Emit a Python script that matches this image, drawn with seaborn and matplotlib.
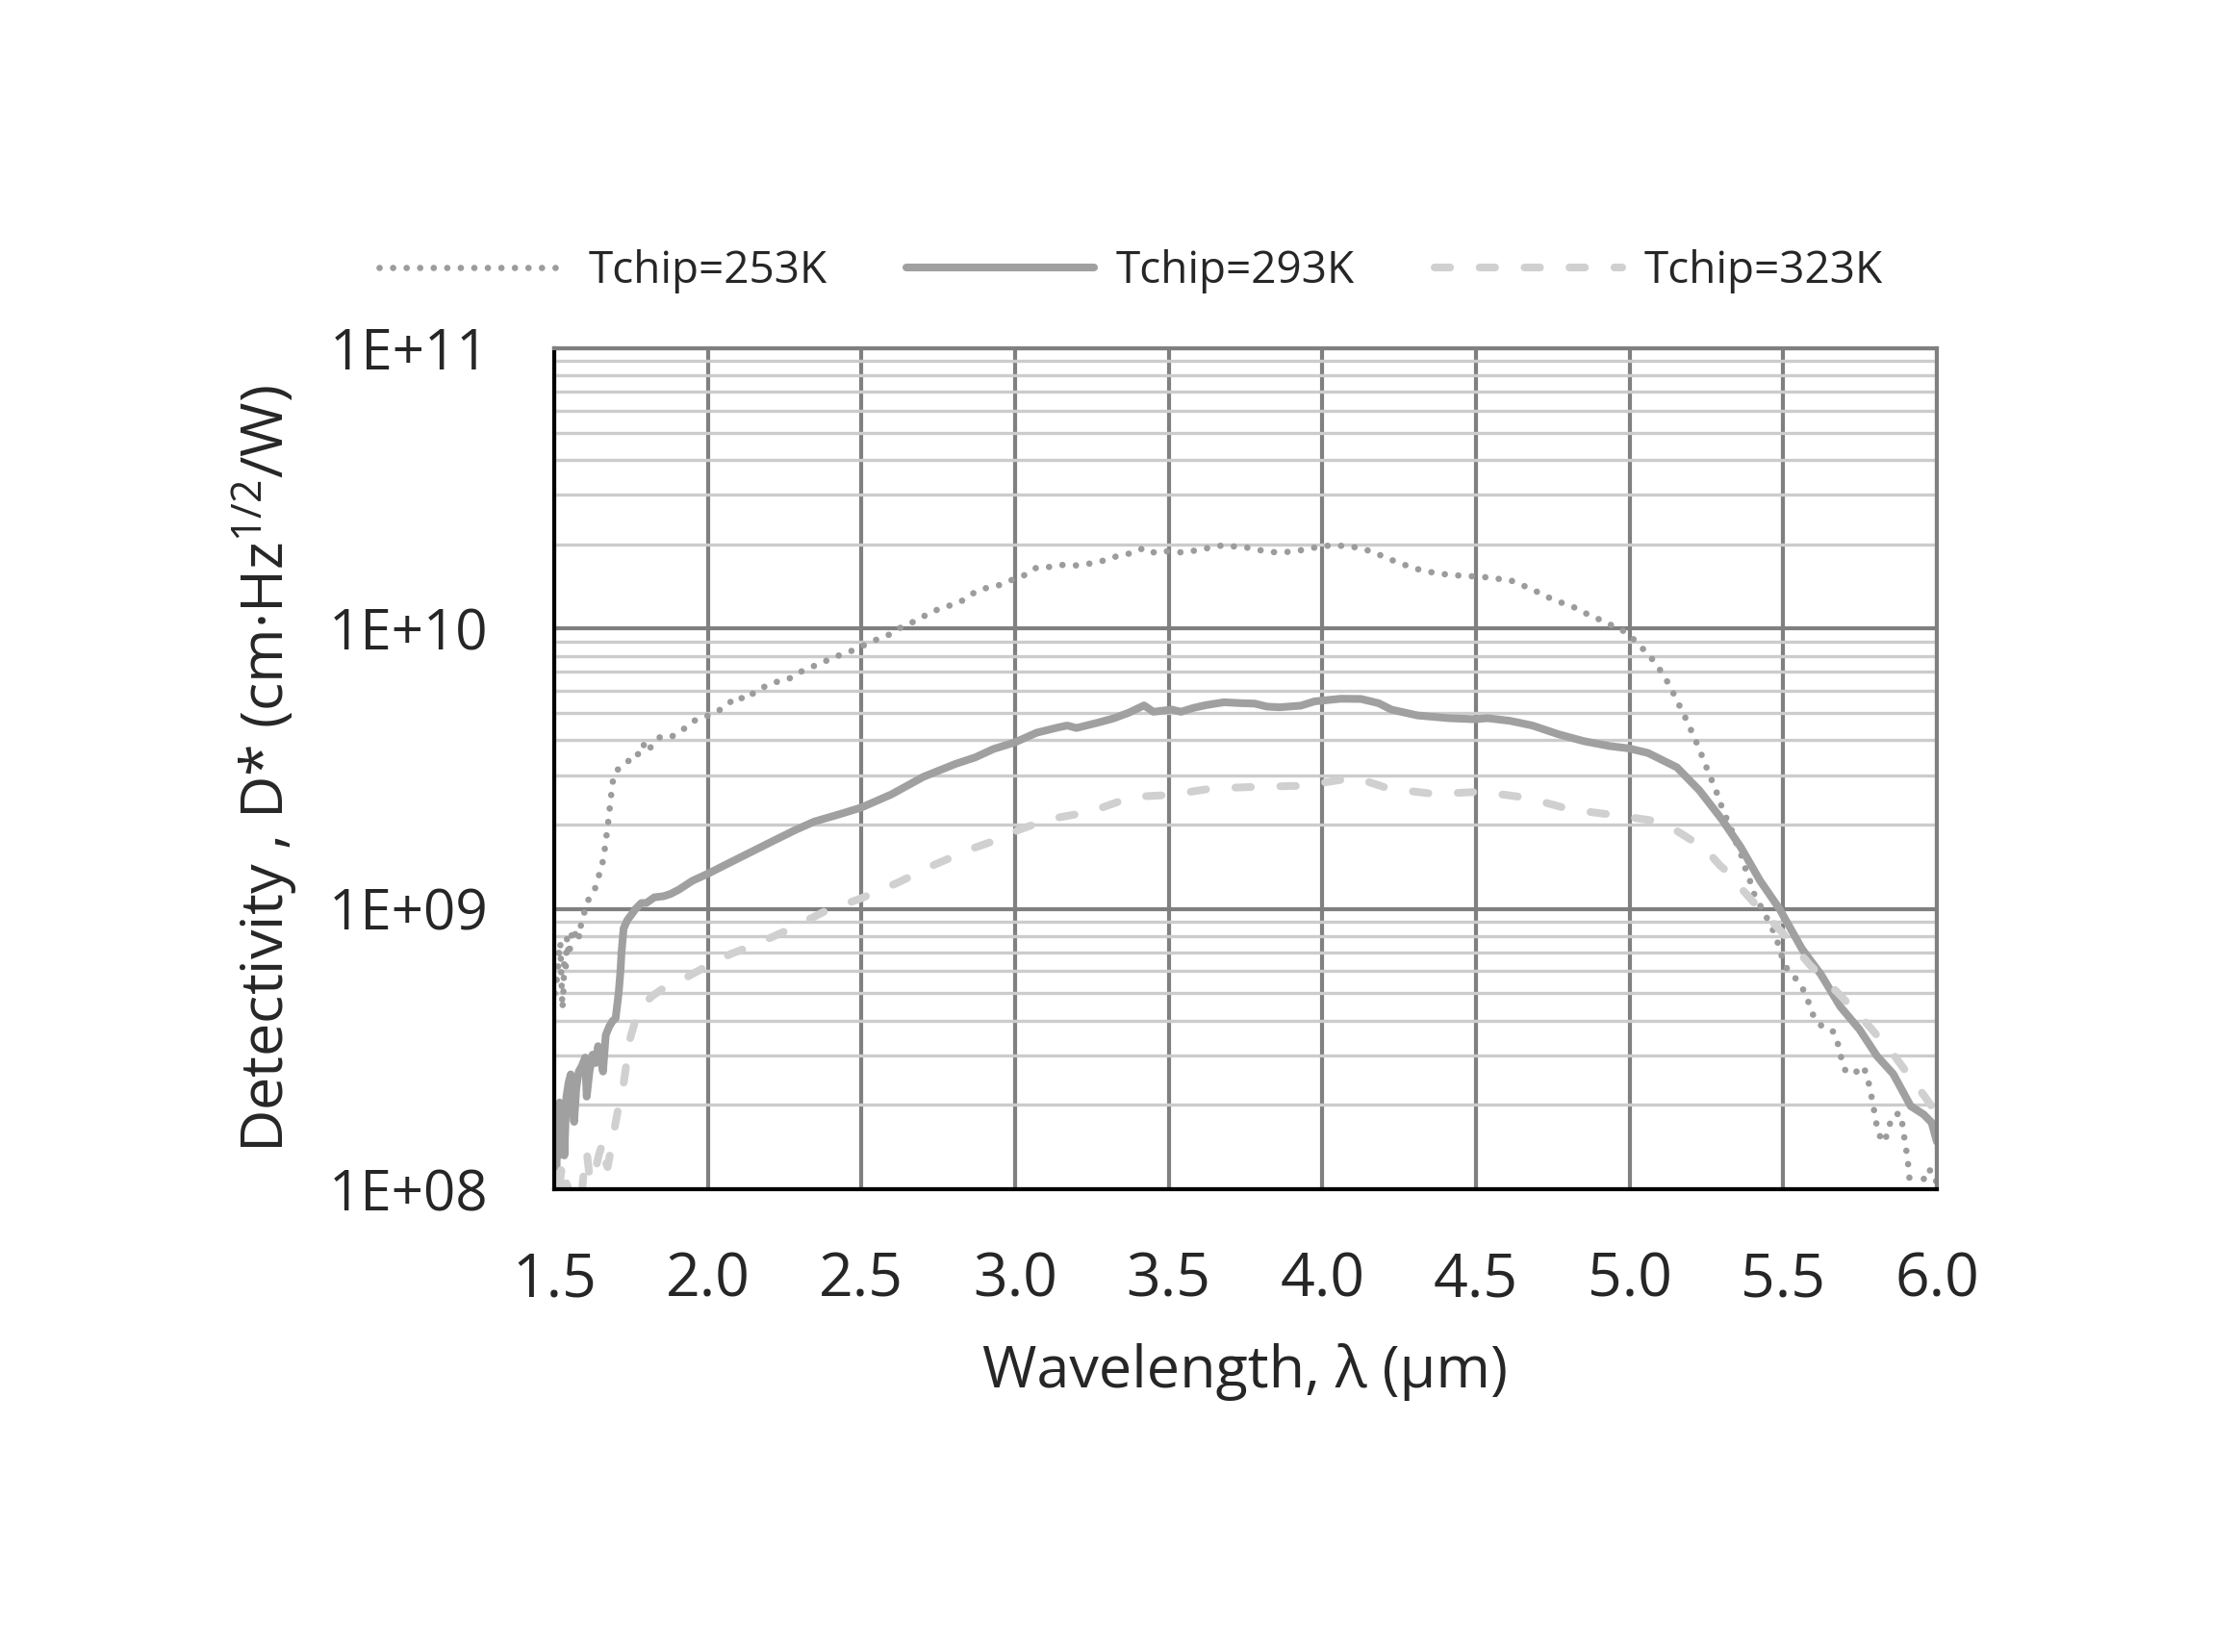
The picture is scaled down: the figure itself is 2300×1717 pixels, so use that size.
import matplotlib
matplotlib.use("Agg")
import matplotlib.pyplot as plt
import seaborn as sns
from matplotlib.ticker import LogLocator, NullFormatter, FixedLocator

# --- dados ---
series_names = ["Tchip=253K", "Tchip=293K", "Tchip=323K"]

x_253 = [1.502, 1.507, 1.512, 1.516, 1.520, 1.524, 1.527, 1.530, 1.533, 1.538,
         1.542, 1.548, 1.553, 1.560, 1.568, 1.575, 1.582, 1.588, 1.596, 1.606,
         1.620, 1.632, 1.643, 1.655, 1.663, 1.669, 1.674, 1.680, 1.685, 1.690,
         1.700, 1.721, 1.745, 1.763, 1.790, 1.800, 1.846, 1.883, 1.920, 1.960,
         2.003, 2.050, 2.095, 2.123, 2.160, 2.212, 2.264, 2.295, 2.331, 2.368,
         2.404, 2.441, 2.483, 2.520, 2.556, 2.592, 2.629, 2.680, 2.730, 2.780,
         2.830, 2.870, 2.910, 2.950, 2.995, 3.030, 3.070, 3.115, 3.160, 3.200,
         3.250, 3.290, 3.330, 3.380, 3.420, 3.456, 3.500, 3.540, 3.590, 3.630,
         3.675, 3.720, 3.765, 3.810, 3.850, 3.900, 3.940, 3.990, 4.030, 4.080,
         4.120, 4.170, 4.210, 4.250, 4.290, 4.340, 4.380, 4.430, 4.470, 4.520,
         4.560, 4.610, 4.650, 4.695, 4.730, 4.776, 4.820, 4.860, 4.900, 4.940,
         4.985, 5.020, 5.050, 5.080, 5.107, 5.130, 5.150, 5.170, 5.190, 5.209,
         5.227, 5.244, 5.261, 5.279, 5.294, 5.310, 5.330, 5.345, 5.362, 5.373,
         5.389, 5.404, 5.425, 5.446, 5.467, 5.482, 5.496, 5.514, 5.543, 5.569,
         5.585, 5.600, 5.628, 5.663, 5.679, 5.689, 5.704, 5.731, 5.761, 5.775,
         5.785, 5.793, 5.801, 5.809, 5.830, 5.842, 5.855, 5.879, 5.890, 5.895,
         5.903, 5.908, 5.912, 5.925, 5.940, 5.954, 5.968, 5.991, 6.000]
d_253 = [5.0e8, 5.4e8, 6.0e8, 7.1e8, 7.6e8, 5.6e8, 4.4e8, 5.0e8, 6.6e8, 6.2e8,
         7.9e8, 6.8e8, 7.4e8, 8.5e8, 8.1e8, 8.5e8, 7.9e8, 8.9e8, 9.5e8, 1.05e9,
         1.12e9, 1.17e9, 1.29e9, 1.41e9, 1.58e9, 1.78e9, 1.95e9, 2.24e9, 2.51e9, 2.82e9,
         3.09e9, 3.24e9, 3.39e9, 3.39e9, 3.89e9, 3.63e9, 4.12e9, 4.12e9, 4.37e9, 4.72e9,
         4.90e9, 5.20e9, 5.73e9, 5.58e9, 6.03e9, 6.40e9, 6.62e9, 6.95e9, 7.26e9, 7.50e9,
         7.87e9, 8.11e9, 8.45e9, 8.85e9, 9.20e9, 9.53e9, 1.01e10, 1.07e10, 1.15e10, 1.20e10,
         1.26e10, 1.35e10, 1.40e10, 1.43e10, 1.50e10, 1.55e10, 1.65e10, 1.66e10, 1.69e10, 1.68e10,
         1.71e10, 1.75e10, 1.81e10, 1.86e10, 1.94e10, 1.86e10, 1.89e10, 1.87e10, 1.90e10, 1.94e10,
         1.98e10, 1.96e10, 1.94e10, 1.89e10, 1.87e10, 1.88e10, 1.91e10, 1.96e10, 1.98e10, 1.97e10,
         1.94e10, 1.87e10, 1.78e10, 1.72e10, 1.65e10, 1.60e10, 1.57e10, 1.55e10, 1.54e10, 1.53e10,
         1.51e10, 1.49e10, 1.43e10, 1.36e10, 1.30e10, 1.24e10, 1.19e10, 1.13e10, 1.08e10, 1.03e10,
         9.75e9, 9.02e9, 8.32e9, 7.64e9, 6.92e9, 6.27e9, 5.66e9, 5.11e9, 4.60e9, 4.13e9,
         3.72e9, 3.33e9, 2.99e9, 2.69e9, 2.41e9, 2.17e9, 1.94e9, 1.74e9, 1.58e9, 1.43e9,
         1.29e9, 1.14e9, 1.03e9, 9.33e8, 8.39e8, 7.59e8, 6.75e8, 6.07e8, 5.61e8, 5.08e8,
         4.57e8, 4.11e8, 3.79e8, 3.65e8, 3.28e8, 2.94e8, 2.62e8, 2.59e8, 2.75e8, 2.49e8,
         2.21e8, 1.99e8, 1.77e8, 1.58e8, 1.47e8, 1.64e8, 1.82e8, 1.87e8, 1.67e8, 1.50e8,
         1.33e8, 1.19e8, 1.06e8, 0.95e8, 0.95e8, 1.06e8, 1.18e8, 1.15e8, 1.04e8]

x_293 = [1.500, 1.503, 1.507, 1.510, 1.514, 1.518, 1.523, 1.528, 1.533, 1.540,
         1.547, 1.554, 1.560, 1.565, 1.572, 1.580, 1.590, 1.601, 1.606, 1.615,
         1.625, 1.635, 1.643, 1.652, 1.659, 1.668, 1.679, 1.690, 1.700, 1.710,
         1.716, 1.719, 1.726, 1.738, 1.752, 1.765, 1.784, 1.800, 1.826, 1.856,
         1.878, 1.905, 1.950, 2.003, 2.065, 2.138, 2.200, 2.284, 2.347, 2.431,
         2.500, 2.597, 2.702, 2.806, 2.870, 2.930, 3.000, 3.070, 3.140, 3.170,
         3.200, 3.270, 3.320, 3.370, 3.420, 3.450, 3.510, 3.540, 3.580, 3.620,
         3.680, 3.735, 3.780, 3.820, 3.860, 3.930, 3.975, 4.060, 4.126, 4.183,
         4.225, 4.310, 4.413, 4.496, 4.538, 4.610, 4.684, 4.768, 4.850, 4.935,
         4.997, 5.060, 5.154, 5.227, 5.300, 5.362, 5.425, 5.488, 5.561, 5.623,
         5.686, 5.748, 5.806, 5.858, 5.915, 5.957, 5.983, 6.000]
d_293 = [1.12e8, 1.58e8, 1.02e8, 1.66e8, 1.32e8, 2.04e8, 1.58e8, 2.00e8, 1.32e8, 2.14e8,
         2.40e8, 2.57e8, 2.00e8, 1.74e8, 2.29e8, 2.63e8, 2.75e8, 2.95e8, 2.14e8, 2.63e8,
         3.02e8, 2.82e8, 3.24e8, 2.95e8, 2.63e8, 3.55e8, 3.80e8, 3.98e8, 4.07e8, 5.01e8,
         6.03e8, 6.92e8, 8.51e8, 9.12e8, 9.55e8, 1.00e9, 1.05e9, 1.05e9, 1.10e9, 1.11e9,
         1.13e9, 1.17e9, 1.26e9, 1.34e9, 1.45e9, 1.59e9, 1.72e9, 1.91e9, 2.05e9, 2.18e9,
         2.30e9, 2.56e9, 2.96e9, 3.29e9, 3.47e9, 3.72e9, 3.93e9, 4.25e9, 4.44e9, 4.51e9,
         4.42e9, 4.62e9, 4.78e9, 5.01e9, 5.32e9, 5.05e9, 5.14e9, 5.05e9, 5.21e9, 5.33e9,
         5.46e9, 5.42e9, 5.40e9, 5.27e9, 5.24e9, 5.31e9, 5.50e9, 5.62e9, 5.61e9, 5.42e9,
         5.14e9, 4.90e9, 4.79e9, 4.75e9, 4.79e9, 4.69e9, 4.51e9, 4.20e9, 3.97e9, 3.81e9,
         3.74e9, 3.60e9, 3.20e9, 2.65e9, 2.09e9, 1.66e9, 1.26e9, 1.00e9, 7.21e8, 5.83e8,
         4.48e8, 3.72e8, 2.98e8, 2.58e8, 1.98e8, 1.85e8, 1.73e8, 1.48e8]

x_323 = [1.505, 1.512, 1.518, 1.523, 1.530, 1.540, 1.550, 1.559, 1.570, 1.580,
         1.591, 1.600, 1.606, 1.615, 1.625, 1.632, 1.645, 1.659, 1.667, 1.674,
         1.688, 1.700, 1.716, 1.726, 1.747, 1.773, 1.794, 1.820, 1.852, 1.919,
         2.003, 2.076, 2.160, 2.264, 2.378, 2.498, 2.618, 2.733, 2.853, 2.970,
         3.010, 3.110, 3.245, 3.380, 3.505, 3.640, 3.800, 3.940, 4.080, 4.120,
         4.215, 4.366, 4.517, 4.668, 4.810, 4.955, 5.070, 5.150, 5.216, 5.237,
         5.294, 5.310, 5.399, 5.498, 5.587, 5.681, 5.775, 5.863, 5.957, 6.000]
d_323 = [1.00e8, 1.20e8, 1.02e8, 1.17e8, 0.95e8, 1.05e8, 0.98e8, 1.05e8, 0.95e8, 0.95e8,
         1.00e8, 1.26e8, 1.36e8, 1.12e8, 1.20e8, 1.14e8, 1.32e8, 1.48e8, 1.26e8, 1.20e8,
         1.45e8, 1.73e8, 2.14e8, 2.38e8, 3.44e8, 4.31e8, 4.60e8, 4.90e8, 5.18e8, 5.61e8,
         6.31e8, 6.92e8, 7.50e8, 8.45e8, 9.77e8, 1.09e9, 1.24e9, 1.43e9, 1.63e9, 1.81e9,
         1.91e9, 2.09e9, 2.22e9, 2.51e9, 2.55e9, 2.69e9, 2.73e9, 2.75e9, 2.91e9, 2.91e9,
         2.69e9, 2.57e9, 2.62e9, 2.49e9, 2.26e9, 2.16e9, 2.07e9, 1.91e9, 1.72e9, 1.68e9,
         1.43e9, 1.38e9, 1.07e9, 8.22e8, 6.31e8, 4.98e8, 3.87e8, 2.98e8, 2.17e8, 1.86e8]

x_ticks = [1.5, 2.0, 2.5, 3.0, 3.5, 4.0, 4.5, 5.0, 5.5, 6.0]
x_tick_labels = ["1.5", "2.0", "2.5", "3.0", "3.5", "4.0", "4.5", "5.0", "5.5", "6.0"]
y_ticks = [1e8, 1e9, 1e10, 1e11]
y_tick_labels = ["1E+08", "1E+09", "1E+10", "1E+11"]

# --- estilo ---
sns.set_style("white")
plt.rcParams['font.family'] = ['Open Sans', 'DejaVu Sans']
plt.rcParams['mathtext.fontset'] = 'custom'
plt.rcParams['mathtext.rm'] = 'Open Sans'
plt.rcParams['mathtext.it'] = 'Open Sans:italic'

fig = plt.figure(figsize=(23, 17.17), dpi=100)
ax = fig.add_axes([0.2504, 0.2801, 0.6248, 0.5091])

# Curvas (ordem do Excel: 253K, 293K, 323K)
sns.lineplot(x=x_253, y=d_253, ax=ax, color='#9c9c9c',
             label=series_names[0], estimator=None, errorbar=None)
sns.lineplot(x=x_293, y=d_293, ax=ax, color='#a0a0a0',
             label=series_names[1], estimator=None, errorbar=None)
sns.lineplot(x=x_323, y=d_323, ax=ax, color='#d0d0d0',
             label=series_names[2], estimator=None, errorbar=None)

# espessura e tracejado de cada curva aplicados direto nas linhas
l253, l293, l323 = ax.lines[:3]
l253.set_linewidth(4.8)
l253.set_linestyle((0, (0.01, 2.1)))
l253.set_dash_capstyle('round')
l293.set_linewidth(5.8)
l293.set_solid_joinstyle('round')
l293.set_solid_capstyle('round')
l323.set_linewidth(5.8)
l323.set_linestyle((0, (2.0, 3.8)))
l323.set_dash_capstyle('round')

ax.set_yscale('log')
ax.set_xlim(1.5, 6.0)
ax.set_ylim(1e8, 1e11)

ax.xaxis.set_major_locator(FixedLocator(x_ticks))
ax.set_xticklabels(x_tick_labels)
ax.yaxis.set_major_locator(FixedLocator(y_ticks))
ax.set_yticklabels(y_tick_labels)
ax.yaxis.set_minor_locator(LogLocator(base=10, subs=[2, 3, 4, 5, 6, 7, 8, 9]))
ax.yaxis.set_minor_formatter(NullFormatter())

# Grade
ax.set_axisbelow(True)
ax.grid(which='major', axis='both', color='#808080', lw=3.0)
ax.grid(which='minor', axis='y', color='#cccccc', lw=2.4)

for s in ['top', 'right']:
    ax.spines[s].set_color('#808080')
    ax.spines[s].set_linewidth(3.0)
for s in ['left', 'bottom']:
    ax.spines[s].set_color('black')
    ax.spines[s].set_linewidth(3.0)

ax.tick_params(axis='y', which='major', direction='out', length=14, width=2.8,
               color='black', pad=35, labelsize=42)
ax.tick_params(axis='y', which='minor', length=0)
ax.tick_params(axis='x', which='major', direction='out', length=16, width=2.8,
               color='black', pad=30, labelsize=45)

ax.set_xlabel('Wavelength, λ (µm)', fontsize=44, labelpad=24)
ax.set_ylabel(r'Detectivity , D* (cm·Hz$^{\mathrm{1/2}}$/W)', fontsize=44, labelpad=22)

# Legenda acima do gráfico (refeita a partir das linhas já ajustadas)
ax.get_legend().remove()
fig.legend([l253, l293, l323], series_names, loc='center',
           bbox_to_anchor=(0.511, 0.836), ncol=3, frameon=False, fontsize=33,
           handlelength=4.25, handletextpad=0.5, columnspacing=1.8)

fig.savefig('out.png', dpi=100, facecolor='white')
